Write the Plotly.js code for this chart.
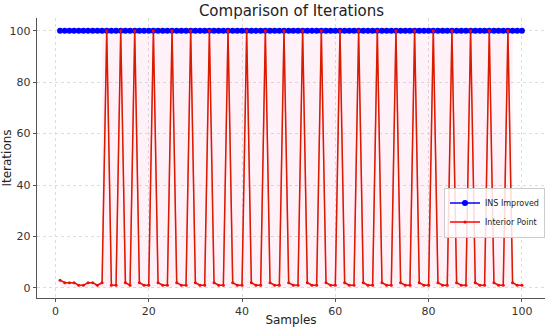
<!DOCTYPE html>
<html><head><meta charset="utf-8">
<script src="https://cdn.plot.ly/plotly-3.0.1.min.js"></script>
<style>html,body{margin:0;padding:0;background:#fff}#c{width:550px;height:327px}</style>
</head><body><div id="c"></div>
<script>
const samples = Array.from({length:100}, (_, i) => i + 1);
const insImproved = [100,100,100,100,100,100,100,100,100,100,100,100,100,100,100,100,100,100,100,100,
100,100,100,100,100,100,100,100,100,100,100,100,100,100,100,100,100,100,100,100,
100,100,100,100,100,100,100,100,100,100,100,100,100,100,100,100,100,100,100,100,
100,100,100,100,100,100,100,100,100,100,100,100,100,100,100,100,100,100,100,100,
100,100,100,100,100,100,100,100,100,100,100,100,100,100,100,100,100,100,100,100];
const interiorPoint = [3,2,2,2,1,1,2,2,1,2,
100,1,1,100,2,1,100,2,1,1,
100,2,1,1,100,2,1,1,100,2,
1,1,100,2,1,1,100,2,1,1,
100,2,1,1,100,2,1,1,100,2,
1,1,100,2,1,1,100,2,1,1,
100,2,1,1,100,2,1,1,100,2,
1,1,100,2,1,1,100,2,1,1,
100,2,1,1,100,2,1,1,100,2,
1,1,100,2,1,1,100,2,1,1];
// shaded region spans samples 10..98
const bandStart = 10, bandEnd = 98;

const bx = samples.filter(s => s >= bandStart && s <= bandEnd);
const bLow = bx.map(s => interiorPoint[s-1]);
const bHigh = bx.map(s => insImproved[s-1]);

const traces = [
  {x: samples, y: interiorPoint, type:'scatter', mode:'none', fill:'tozeroy',
   fillcolor:'rgba(255,120,190,0.10)', showlegend:false, hoverinfo:'skip'},
  {x: bx, y: bLow, type:'scatter', mode:'lines', line:{width:0}, showlegend:false, hoverinfo:'skip'},
  {x: bx, y: bHigh, type:'scatter', mode:'lines', line:{width:0}, fill:'tonexty',
   fillcolor:'rgba(255,120,190,0.10)', showlegend:false, hoverinfo:'skip'},
  {x: samples, y: insImproved, name:'INS Improved', type:'scatter', mode:'lines+markers',
   line:{color:'#0000ff', width:1.5}, marker:{color:'#0000ff', size:6}},
  {x: samples, y: interiorPoint, name:'Interior Point', type:'scatter', mode:'lines+markers',
   line:{color:'#ff0000', width:1.5}, marker:{color:'#ff0000', size:3}},
  {x: samples, y: interiorPoint, type:'scatter', mode:'lines',
   line:{color:'rgba(100,110,0,0.25)', width:1.3}, showlegend:false, hoverinfo:'skip'}
];

const axisCommon = {
  showline:true, linecolor:'#555', linewidth:1.2, mirror:false,
  showgrid:true, gridcolor:'#ddd', griddash:'dot', gridwidth:1,
  zeroline:false, ticks:'outside', ticklen:3, tickcolor:'#555',
  tickfont:{family:'DejaVu Sans', size:11, color:'#333'}
};

const layout = {
  width:550, height:327,
  margin:{l:37, r:5, t:18, b:29},
  paper_bgcolor:'#fff', plot_bgcolor:'#fff',
  title:{text:'Comparison of Iterations', font:{family:'DejaVu Sans', size:15, color:'#222'}, x:0.53, xanchor:'center', y:0.966, yanchor:'middle'},
  xaxis: Object.assign({}, axisCommon, {range:[-3.95,104.95], tickvals:[0,20,40,60,80,100],
    title:{text:'Samples', font:{family:'DejaVu Sans', size:12, color:'#222'}, standoff:2}}),
  yaxis: Object.assign({}, axisCommon, {range:[-3.95,104.95], tickvals:[0,20,40,60,80,100],
    title:{text:'Iterations', font:{family:'DejaVu Sans', size:12, color:'#222'}, standoff:6}}),
  legend:{x:1.0, y:0.305, xanchor:'right', yanchor:'middle', bgcolor:'rgba(255,255,255,0.85)',
    bordercolor:'#ccc', borderwidth:1, font:{family:'DejaVu Sans', size:8, color:'#222'},
    itemwidth:30, tracegroupgap:0, traceorder:'normal'},
  showlegend:true
};
Plotly.newPlot('c', traces, layout, {staticPlot:true});
</script></body></html>
